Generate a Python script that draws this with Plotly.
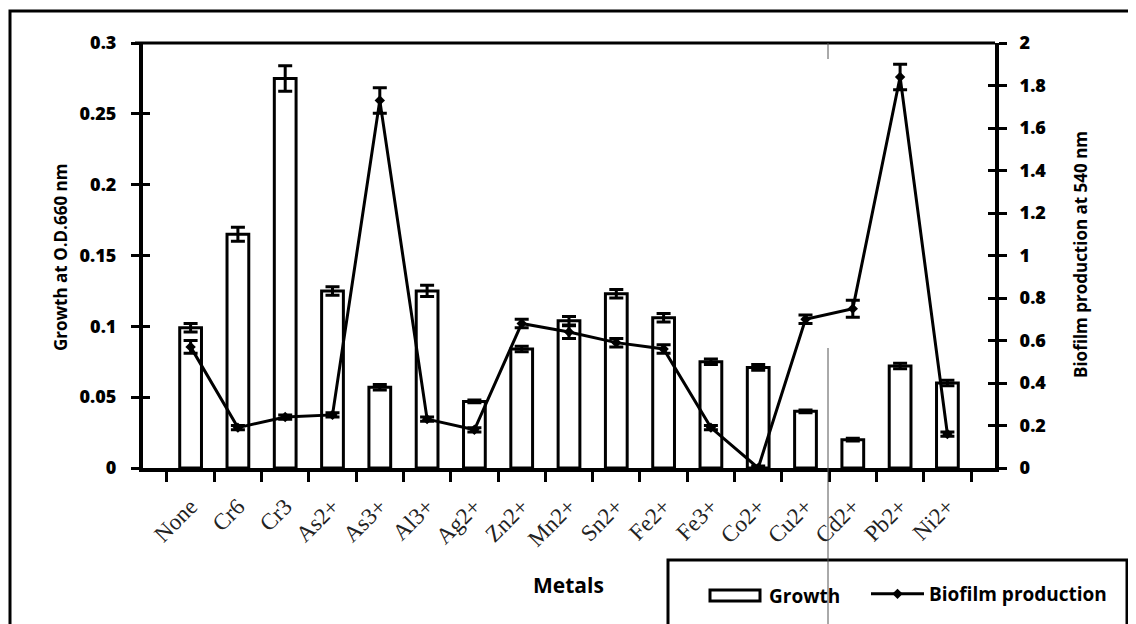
import plotly.graph_objects as go

metals = ["None", "Cr6", "Cr3", "As2+", "As3+", "Al3+", "Ag2+", "Zn2+", "Mn2+",
          "Sn2+", "Fe2+", "Fe3+", "Co2+", "Cu2+", "Cd2+", "Pb2+", "Ni2+"]
growth = [0.099, 0.165, 0.275, 0.125, 0.057, 0.125, 0.047, 0.084, 0.104,
          0.123, 0.106, 0.075, 0.071, 0.040, 0.020, 0.072, 0.060]
growth_err = [0.003, 0.005, 0.009, 0.003, 0.002, 0.004, 0.001, 0.002, 0.003,
              0.003, 0.003, 0.002, 0.002, 0.001, 0.001, 0.002, 0.002]
biofilm = [0.57, 0.19, 0.24, 0.25, 1.73, 0.23, 0.18, 0.68, 0.64,
           0.59, 0.56, 0.19, 0.0, 0.70, 0.75, 1.84, 0.16]
biofilm_err = [0.03, 0.01, 0.01, 0.01, 0.06, 0.01, 0.01, 0.02, 0.03,
               0.02, 0.02, 0.01, 0.01, 0.02, 0.04, 0.06, 0.01]
left_ticks = [0, 0.05, 0.1, 0.15, 0.2, 0.25, 0.3]
right_ticks = [0, 0.2, 0.4, 0.6, 0.8, 1, 1.2, 1.4, 1.6, 1.8, 2]

W, H = 1136, 624
OFF = 8  # page body margin
L, R, T, B = 143, 995, 43, 468  # plot area in screenshot pixels

def px(x):
    return (x - L) / (R - L)

def py(y):
    return (B - y) / (B - T)

fig = go.Figure()
fig.add_trace(go.Bar(
    x=metals, y=growth, name="Growth", width=0.46, showlegend=False,
    marker=dict(color="white", line=dict(color="black", width=3)),
    error_y=dict(type="data", array=growth_err, color="black", thickness=3, width=7),
    yaxis="y",
))
fig.add_trace(go.Scatter(
    x=metals, y=biofilm, name="Biofilm production", mode="lines+markers",
    line=dict(color="black", width=3),
    marker=dict(symbol="diamond", size=8, color="black"),
    error_y=dict(type="data", array=biofilm_err, color="black", thickness=3, width=7),
    yaxis="y2",
))
# helper traces so the inner tick axes render
fig.add_trace(go.Scatter(x=metals, y=[None]*len(metals), yaxis="y3",
                         showlegend=False, hoverinfo="skip", mode="lines"))
fig.add_trace(go.Scatter(x=metals, y=[None]*len(metals), yaxis="y4",
                         showlegend=False, hoverinfo="skip", mode="lines"))

tickfont = dict(family="Open Sans", size=18, color="black", weight=800)
titlefont = dict(family="Open Sans", size=17, color="black", weight="bold")
legfont = dict(family="Open Sans", size=19, color="black", weight="bold")

fig.update_layout(
    width=W, height=H,
    margin=dict(l=L - OFF, r=W - (R - OFF), t=T - OFF, b=H - (B - OFF), autoexpand=False),
    paper_bgcolor="white", plot_bgcolor="white",
    showlegend=True,
    xaxis=dict(
        type="category", categoryorder="array", categoryarray=metals,
        showline=True, linecolor="black", linewidth=4,
        ticks="outside", ticklen=10, tickwidth=3, tickcolor="black",
        tickson="boundaries", tickangle=-45, ticklabelstandoff=12,
        tickfont=dict(family="Liberation Serif", size=23, color="#222"),
        showgrid=False, zeroline=False, automargin=False,
    ),
    yaxis=dict(
        range=[0, 0.3], tickvals=left_ticks,
        showline=True, linecolor="black", linewidth=4,
        ticks="outside", ticklen=8, tickwidth=3, tickcolor="black",
        ticklabelstandoff=11, automargin=False,
        tickfont=tickfont, showgrid=False, zeroline=False,
    ),
    yaxis2=dict(
        range=[0, 2], tickvals=right_ticks, overlaying="y", side="right",
        showline=True, linecolor="black", linewidth=4,
        ticks="outside", ticklen=8, tickwidth=3, tickcolor="black",
        ticklabelstandoff=9, automargin=False,
        tickfont=tickfont, showgrid=False, zeroline=False,
    ),
    yaxis3=dict(
        range=[0, 0.3], tickvals=left_ticks, overlaying="y", side="left",
        ticks="inside", ticklen=7, tickwidth=3, tickcolor="black",
        showticklabels=False, showgrid=False, zeroline=False, showline=False,
    ),
    yaxis4=dict(
        range=[0, 2], tickvals=right_ticks, overlaying="y", side="right",
        ticks="inside", ticklen=7, tickwidth=3, tickcolor="black",
        showticklabels=False, showgrid=False, zeroline=False, showline=False,
    ),
    legend=dict(
        orientation="h", x=px(866), xanchor="left", y=py(594), yanchor="middle",
        font=legfont, bgcolor="rgba(0,0,0,0)", borderwidth=0, itemwidth=53,
    ),
    annotations=[
        dict(text="Metals", xref="paper", yref="paper", x=px(568), y=py(585),
             xanchor="center", yanchor="middle", showarrow=False,
             font=dict(family="Open Sans", size=21, color="black", weight="bold")),
        dict(text="Growth at O.D.660 nm", xref="paper", yref="paper", x=px(60), y=py(258),
             xanchor="center", yanchor="middle", textangle=-90, showarrow=False, font=titlefont),
        dict(text="Biofilm production at 540 nm", xref="paper", yref="paper", x=px(1081), y=py(255),
             xanchor="center", yanchor="middle", textangle=-90, showarrow=False, font=titlefont),
        dict(text="Growth", xref="paper", yref="paper", x=px(767), y=py(596),
             xanchor="left", yanchor="middle", showarrow=False, font=legfont),
    ],
    shapes=[
        # top frame line of plot area
        dict(type="line", xref="paper", yref="paper", x0=px(135), x1=1, y0=1, y1=1,
             line=dict(color="black", width=3)),
        # outer border
        dict(type="rect", xref="paper", yref="paper", x0=px(10), x1=px(1170),
             y0=py(11), y1=py(680), line=dict(color="black", width=3)),
        # legend box
        dict(type="rect", xref="paper", yref="paper", x0=px(668), x1=px(1127),
             y0=py(560), y1=py(680), line=dict(color="black", width=3)),
        # Growth legend symbol
        dict(type="rect", xref="paper", yref="paper", x0=px(710), x1=px(760),
             y0=py(590), y1=py(601), fillcolor="white", line=dict(color="black", width=3)),
        # thin vertical artefact line
        dict(type="line", xref="paper", yref="paper", x0=px(828), x1=px(828),
             y0=py(43), y1=py(59), line=dict(color="#555", width=1)),
        dict(type="line", xref="paper", yref="paper", x0=px(828), x1=px(828),
             y0=py(348), y1=py(640), line=dict(color="#555", width=1)),
    ],
)

fig.write_html("out.html")
